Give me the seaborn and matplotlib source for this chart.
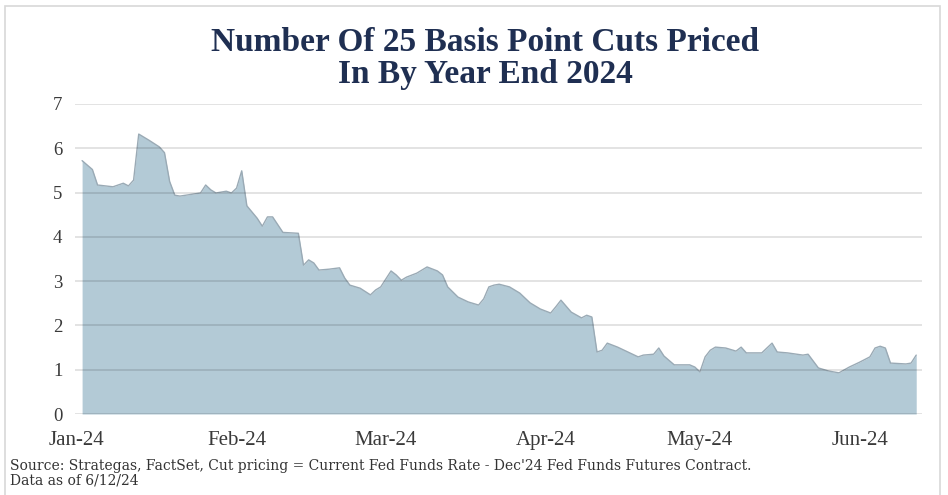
import matplotlib
matplotlib.use("Agg")
import matplotlib.pyplot as plt
import matplotlib.dates as mdates
from matplotlib.patches import Rectangle
import seaborn as sns
import pandas as pd

# values (number of 25bp cuts priced in)
dates = [
    "2024-01-02", "2024-01-03", "2024-01-04", "2024-01-05", "2024-01-08", "2024-01-10",
    "2024-01-11", "2024-01-12", "2024-01-13", "2024-01-15", "2024-01-17", "2024-01-18",
    "2024-01-19", "2024-01-20", "2024-01-21", "2024-01-25", "2024-01-26", "2024-01-27",
    "2024-01-28", "2024-01-30", "2024-01-31", "2024-02-01", "2024-02-02", "2024-02-03",
    "2024-02-05", "2024-02-06", "2024-02-07", "2024-02-08", "2024-02-10", "2024-02-13",
    "2024-02-14", "2024-02-15", "2024-02-16", "2024-02-17", "2024-02-19", "2024-02-21",
    "2024-02-22", "2024-02-23", "2024-02-25", "2024-02-27", "2024-02-28", "2024-02-29",
    "2024-03-02", "2024-03-03", "2024-03-04", "2024-03-05", "2024-03-07", "2024-03-09",
    "2024-03-11", "2024-03-12", "2024-03-13", "2024-03-15", "2024-03-17", "2024-03-19",
    "2024-03-20", "2024-03-21", "2024-03-22", "2024-03-23", "2024-03-25", "2024-03-27",
    "2024-03-29", "2024-03-31", "2024-04-02", "2024-04-03", "2024-04-04", "2024-04-06",
    "2024-04-08", "2024-04-09", "2024-04-10", "2024-04-11", "2024-04-12", "2024-04-13",
    "2024-04-15", "2024-04-17", "2024-04-19", "2024-04-20", "2024-04-22", "2024-04-23",
    "2024-04-24", "2024-04-26", "2024-04-29", "2024-04-30", "2024-05-01", "2024-05-02",
    "2024-05-03", "2024-05-04", "2024-05-06", "2024-05-08", "2024-05-09", "2024-05-10",
    "2024-05-13", "2024-05-15", "2024-05-16", "2024-05-18", "2024-05-21", "2024-05-22",
    "2024-05-24", "2024-05-26", "2024-05-28", "2024-05-30", "2024-06-01", "2024-06-03",
    "2024-06-04", "2024-06-05", "2024-06-06", "2024-06-07", "2024-06-10", "2024-06-11",
    "2024-06-12",
]
cuts = [
    5.72, 5.62, 5.52, 5.17, 5.13, 5.21,
    5.15, 5.28, 6.32, 6.18, 6.03, 5.90,
    5.25, 4.94, 4.92, 4.99, 5.17, 5.06,
    4.99, 5.03, 4.99, 5.10, 5.49, 4.70,
    4.42, 4.24, 4.45, 4.45, 4.10, 4.08,
    3.36, 3.48, 3.41, 3.25, 3.27, 3.30,
    3.07, 2.91, 2.84, 2.69, 2.80, 2.87,
    3.23, 3.14, 3.02, 3.09, 3.18, 3.32,
    3.23, 3.14, 2.87, 2.64, 2.53, 2.46,
    2.60, 2.87, 2.91, 2.93, 2.87, 2.73,
    2.51, 2.37, 2.28, 2.42, 2.57, 2.30,
    2.17, 2.23, 2.19, 1.40, 1.44, 1.60,
    1.51, 1.40, 1.29, 1.33, 1.35, 1.49,
    1.31, 1.11, 1.11, 1.06, 0.95, 1.29,
    1.44, 1.51, 1.49, 1.42, 1.51, 1.38,
    1.38, 1.60, 1.40, 1.38, 1.33, 1.35,
    1.04, 0.97, 0.93, 1.06, 1.17, 1.29,
    1.49, 1.53, 1.49, 1.15, 1.13, 1.15,
    1.33,
]
y_ticks = [0, 1, 2, 3, 4, 5, 6, 7]

title = "Number Of 25 Basis Point Cuts Priced\nIn By Year End 2024"
source = ("Source: Strategas, FactSet, Cut pricing = Current Fed Funds Rate - "
          "Dec'24 Fed Funds Futures Contract.")
as_of = "Data as of 6/12/24"

df = pd.DataFrame({"date": pd.to_datetime(dates), "cuts": cuts})

sns.set_theme(style="white")
plt.rcParams["font.family"] = ["Liberation Serif", "DejaVu Serif"]

fig = plt.figure(figsize=(9.48, 4.95), dpi=100)
ax = fig.add_axes([0.079, 0.1636, 0.894, 0.6264])

fill_color = "#b3cad6"
ax.fill_between(df["date"], 0, df["cuts"], color=fill_color, linewidth=0, zorder=1)
sns.lineplot(data=df, x="date", y="cuts", ax=ax, color="#9aaab5", linewidth=1.0, zorder=2)

ax.set_ylim(0, 7)
ax.set_yticks(y_ticks)
ax.set_xlim(df["date"].iloc[0] - pd.Timedelta(days=1.4),
            df["date"].iloc[-1] + pd.Timedelta(days=1.2))
ax.xaxis.set_major_locator(mdates.MonthLocator())
ax.xaxis.set_major_formatter(mdates.DateFormatter("%b-%y"))

ax.yaxis.grid(True, color="black", alpha=0.13, linewidth=1.2, zorder=3)
ax.xaxis.grid(False)
ax.set_axisbelow(False)
for s in ax.spines.values():
    s.set_visible(False)

ax.tick_params(axis="both", length=0, colors="#3a3a3a")
ax.tick_params(axis="y", pad=9, labelsize=13.5)
ax.tick_params(axis="x", pad=12, labelsize=15)
ax.set_xlabel("")
ax.set_ylabel("")

fig.text(0.512, 0.882, title, ha="center", va="center", fontsize=24,
         fontweight="bold", color="#1f2f52", linespacing=1.05)
fig.text(0.011, 0.058, source, ha="left", va="center", fontsize=10,
         color="#333333", family=["DejaVu Serif"])
fig.text(0.011, 0.030, as_of, ha="left", va="center", fontsize=10,
         color="#333333", family=["DejaVu Serif"])

fig.patches.append(Rectangle((5 / 948, -0.01), 935 / 948, 1 - 6 / 495 + 0.01,
                             transform=fig.transFigure, fill=False,
                             edgecolor="#d8d8d8", linewidth=1.2))

fig.savefig("out.png", dpi=100)
